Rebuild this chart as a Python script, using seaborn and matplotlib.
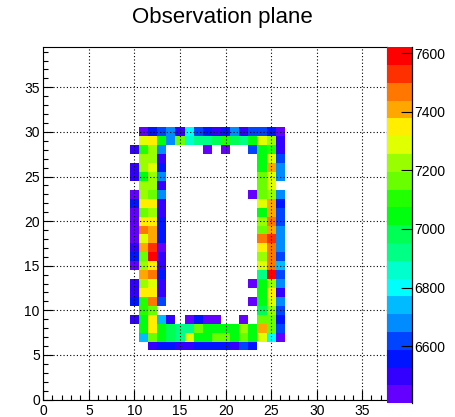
import colorsys
import numpy as np
import pandas as pd
import matplotlib
matplotlib.use("Agg")
import matplotlib.pyplot as plt
import seaborn as sns
from matplotlib.colors import ListedColormap
from matplotlib.ticker import MultipleLocator, FixedLocator, NullLocator

N = None
# bin centres
x_centers = list(range(10, 27))          # 17 columns
y_centers = list(range(30, 5, -1))       # 25 rows, top to bottom

# bin contents, one list per row (x = 10 .. 26); None = empty bin
z_y30 = [N, 6435, 6557, 6618, 6678, 6496, 6800, 6618, 6557, 6496, 6557, 6678, 6496, 6618, 6618, 6557, 6435]
z_y29 = [N, 7286, 7347, 7043, 6678, 7165, 6861, 6922, 6922, 6982, 7104, 6982, 6922, 7043, 7286, 7226, 6496]
z_y28 = [6496, 7104, 7226, 6678, N, N, N, N, 6435, N, 6435, N, N, 6618, 7043, 7104, 6496]
z_y27 = [N, 7226, 7226, 6496, N, N, N, N, N, N, N, N, N, N, 7043, 7286, 6618]
z_y26 = [6496, 7226, 7286, 6557, N, N, N, N, N, N, N, N, N, N, 7043, 7408, 6678]
z_y25 = [6496, 7043, 7226, 6678, N, N, N, N, N, N, N, N, N, N, 7165, 7286, 6678]
z_y24 = [N, 7226, 7226, 6496, N, N, N, N, N, N, N, N, N, N, 7165, 7286, N]
z_y23 = [6435, 7226, 7165, 6678, N, N, N, N, N, N, N, N, N, 6435, 7165, 7226, 6678]
z_y22 = [6557, 7347, 7347, 6496, N, N, N, N, N, N, N, N, N, N, 7286, 7408, 6557]
z_y21 = [6435, 7165, 7226, 6496, N, N, N, N, N, N, N, N, N, N, 7043, 7408, 6618]
z_y20 = [6435, 7347, 7347, 6557, N, N, N, N, N, N, N, N, N, N, 7226, 7469, 6618]
z_y19 = [6435, 7469, 7408, 6557, N, N, N, N, N, N, N, N, N, N, 7165, 7408, 6678]
z_y18 = [6435, 7286, 7408, 6557, N, N, N, N, N, N, N, N, N, N, 7469, 7530, 6678]
z_y17 = [6496, 7408, 7530, 6435, N, N, N, N, N, N, N, N, N, N, 7347, 7469, 6678]
z_y16 = [6557, 7165, 7590, 6496, N, N, N, N, N, N, N, N, N, N, 7226, 7469, 6618]
z_y15 = [6435, 7226, 7347, 6496, N, N, N, N, N, N, N, N, N, N, 7286, 7469, 6739]
z_y14 = [N, 7408, 7469, 6557, N, N, N, N, N, N, N, N, N, N, 6922, 7590, 6618]
z_y13 = [6496, 7226, 7286, 6496, N, N, N, N, N, N, N, N, N, 6435, 7043, 7226, 6678]
z_y12 = [6496, 7347, 7347, 6496, N, N, N, N, N, N, N, N, N, N, 7043, 7347, 6496]
z_y11 = [6557, 7104, 7469, 6618, N, N, N, N, N, N, N, N, N, 6435, 7043, 7286, 6678]
z_y10 = [N, 7104, 7165, N, N, N, N, N, N, N, N, N, N, N, 6982, 7226, 6618]
z_y09 = [6496, 7043, 7347, 6739, 6496, N, 6435, 6557, 6435, 6435, N, N, 6435, N, 7165, 7165, 6557]
z_y08 = [N, 7043, 7347, 7043, 6982, 6922, 6922, 7165, 7043, 7043, 7043, 7043, 7226, 7043, 7408, 7165, 6618]
z_y07 = [N, 6739, 7165, 7043, 6982, 6922, 7286, 7043, 7043, 7165, 7165, 7043, 7165, 7043, 7286, 6800, 6435]
z_y06 = [N, N, 6496, 6557, 6557, 6496, 6496, 6557, 6557, 6557, 6557, 6496, 6618, 6557, N, N, N]

rows = [z_y30, z_y29, z_y28, z_y27, z_y26, z_y25, z_y24, z_y23, z_y22, z_y21,
        z_y20, z_y19, z_y18, z_y17, z_y16, z_y15, z_y14, z_y13, z_y12, z_y11,
        z_y10, z_y09, z_y08, z_y07, z_y06]

z_min, z_max = 6405, 7620
cbar_ticks = [6600, 6800, 7000, 7200, 7400, 7600]
title = "Observation plane"

recs = []
for yc, row in zip(y_centers, rows):
    for xc, v in zip(x_centers, row):
        if v is not None:
            recs.append((xc, yc, v))
df = pd.DataFrame(recs, columns=["x", "y", "content"])

x_edges = np.arange(min(x_centers) - 0.5, max(x_centers) + 1.0, 1.0)
y_edges = np.arange(min(y_centers) - 0.5, max(y_centers) + 1.0, 1.0)

# ROOT-like "pretty" palette with 20 contour levels
ncont = 20
idx = [int((j + 0.99) * 50 / ncont) for j in range(ncont)]
colors = [colorsys.hls_to_rgb((280 - (i + 1) * 5.6) / 360.0, 0.5, 1.0) for i in idx]
cmap = ListedColormap(colors)

plt.rcParams['font.family'] = ['Liberation Sans', 'DejaVu Sans']

W, H = 456, 417
fig = plt.figure(figsize=(W / 100, H / 100), dpi=100)
fl, fr, ft, fb = 43.3, 387.0, 46.7, 399.5
ax = fig.add_axes([fl / W, 1 - fb / H, (fr - fl) / W, (fb - ft) / H])
cl, cr, ct, cb = 387.5, 411.7, 47.3, 403.3
cax = fig.add_axes([cl / W, 1 - cb / H, (cr - cl) / W, (cb - ct) / H])

sns.histplot(data=df, x="x", y="y", weights="content", bins=[x_edges, y_edges],
             cmap=cmap, vmin=z_min, vmax=z_max, cbar=True, cbar_ax=cax, ax=ax,
             linewidth=0)

ax.set_xlim(0, (fr - fl) / 9.114)
ax.set_ylim(0, (fb - ft) / 8.92)
ax.set_xlabel("")
ax.set_ylabel("")
ax.set_axisbelow(False)
ax.grid(True, which='major', color='black', linestyle=(0, (1, 2)), linewidth=0.8, zorder=3)
for ln in ax.get_xgridlines() + ax.get_ygridlines():
    ln.set_zorder(3)
ax.xaxis.set_major_locator(MultipleLocator(5))
ax.xaxis.set_minor_locator(MultipleLocator(1))
ax.yaxis.set_major_locator(MultipleLocator(5))
ax.yaxis.set_minor_locator(MultipleLocator(1))
ax.tick_params(which='both', direction='in', top=False, right=False, width=0.8,
               colors='black', labelsize=10)
ax.tick_params(which='major', length=7)
ax.tick_params(which='minor', length=3.5)
ax.tick_params(axis='x', pad=3)
ax.tick_params(axis='y', pad=2.5)
for s in ax.spines.values():
    s.set_visible(True)
    s.set_color('black')
    s.set_linewidth(0.8)

mesh = ax.collections[0]
cbar = mesh.colorbar
cbar.outline.set_visible(False)
cax.yaxis.set_major_locator(FixedLocator(cbar_ticks))
cax.yaxis.set_minor_locator(NullLocator())
cax.tick_params(axis='y', which='major', direction='in', length=8, width=0.8,
                labelsize=10, pad=1.5, right=True, left=False, colors='black')
cax.plot([1, 1], [0, 1], transform=cax.transAxes, color='black', lw=0.9, clip_on=False)

fig.text(222 / W, 1 - 18 / H, title, ha='center', va='center', fontsize=16)

fig.savefig("out.png", dpi=100)
